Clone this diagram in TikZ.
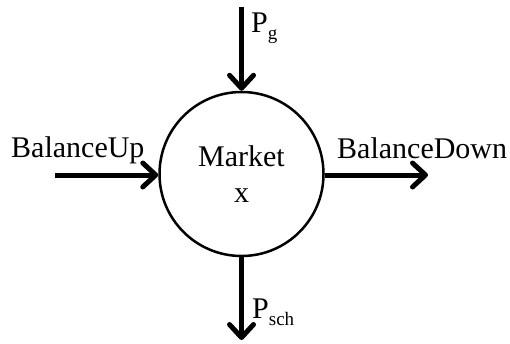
\documentclass[tikz,border=0pt]{standalone}
\usepackage{fontspec}
\setmainfont{Liberation Serif}
\usepackage{tikz}
\usetikzlibrary{arrows.meta, positioning}

% lowered subscript as in the reference
\newcommand{\lowsub}[1]{\raisebox{-7.5pt}{\fontsize{19}{19}\selectfont #1}}

\tikzset{
  flow/.style={line width=5pt, -{Straight Barb[length=13pt, width=24pt, line width=5pt, round]}},
  market/.style={circle, draw, line width=2.5pt, minimum size=164pt, inner sep=0pt, align=center},
  lbl/.style={anchor=base west, inner sep=0pt}
}

\begin{document}
\begin{tikzpicture}[x=1pt, y=-1pt, font=\fontsize{30}{36}\selectfont]
  \useasboundingbox (0,0) rectangle (510,343);

  % market node
  \node[market, font=\fontsize{30}{37}\selectfont] (mkt) at (241.5,174) {Market\\[-1pt]x};

  % free ends
  \coordinate (gin) at (241.5,7);
  \coordinate (schout) at (241.5,340);
  \coordinate (upin) at (55,175);
  \coordinate (downout) at (428,175);

  % flows
  \draw[flow] (gin) -- (mkt.north);
  \draw[flow] (mkt.south) -- (schout);
  \draw[flow] (upin) -- (mkt.west |- upin);
  \draw[flow] (mkt.east |- downout) -- (downout);

  % labels
  \node[lbl] (pg) at (251,32) {P\lowsub{g}};
  \node[lbl] (psch) at (252,318) {P\lowsub{sch}};
  \node[lbl] (bup) at (11,157) {BalanceUp};
  \node[lbl] (bdown) at (337,158) {BalanceDown};
\end{tikzpicture}
\end{document}
